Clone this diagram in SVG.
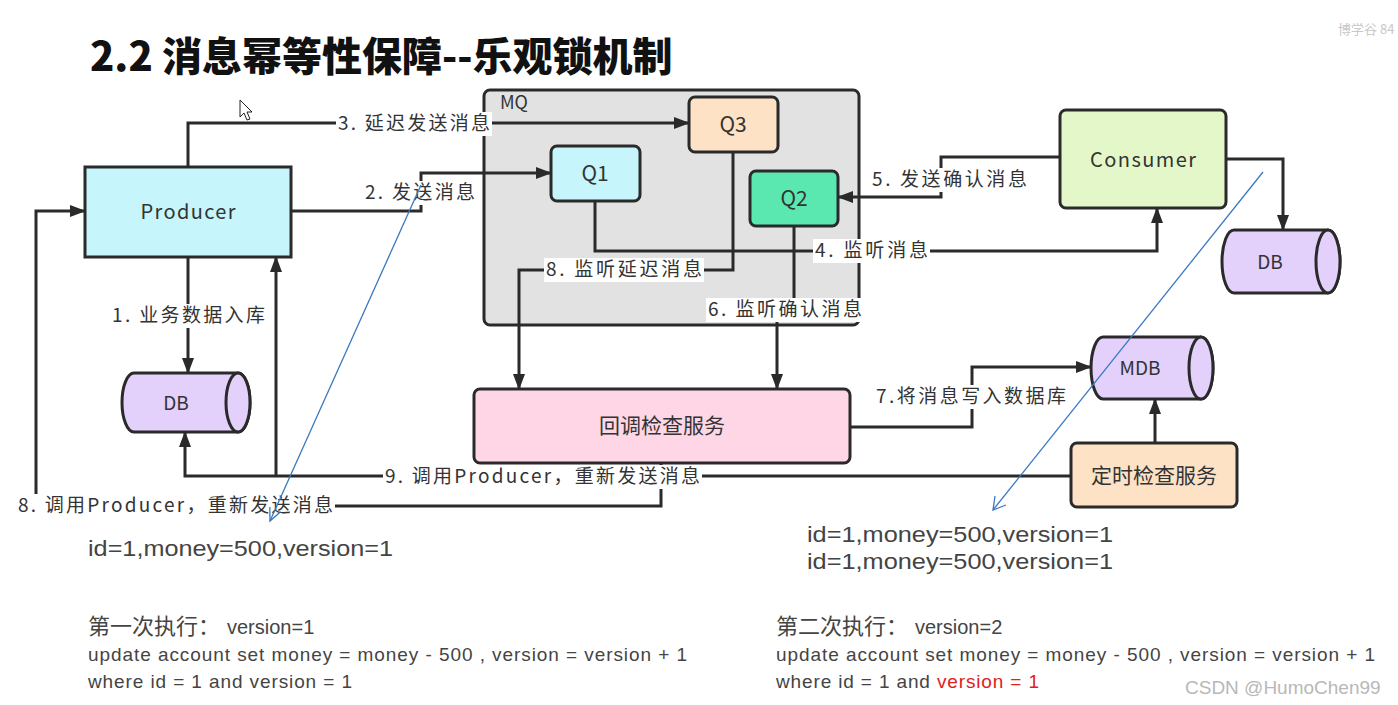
<svg xmlns="http://www.w3.org/2000/svg" width="1398" height="705" viewBox="0 0 1398 705">
<defs>
<marker id="arr" markerWidth="16" markerHeight="12" refX="15" refY="6" orient="auto" markerUnits="userSpaceOnUse">
<path d="M0,0 L16,6 L0,12 Z" fill="#2a2a2a"/>
</marker>
</defs>
<style>
.cn{stroke:#2a2a2a;stroke-width:3;fill:none}
.box{stroke:#2a2a2a;stroke-width:3}
.t{font-family:"Noto Sans CJK SC","Liberation Sans",sans-serif;fill:#333;font-size:21px;text-anchor:middle}
.lb{font-family:"Noto Sans CJK SC","Liberation Sans",sans-serif;fill:#333;font-size:19px}
.lbg{fill:#fff}
.code{font-family:"Liberation Sans","Noto Sans CJK SC",sans-serif;fill:#444;font-size:19px}
.cj{font-family:"Noto Sans CJK SC",sans-serif;font-size:22px}
.id{font-family:"Liberation Sans",sans-serif;fill:#444;font-size:22px}
.blue{stroke:#3a78c0;stroke-width:1.3;fill:none}
</style>
<rect width="1398" height="705" fill="#fff"/>
<text x="90" y="71" style="font-family:'Noto Sans CJK SC',sans-serif;font-weight:900;font-size:40px;fill:#111">2.2 消息幂等性保障--乐观锁机制</text>
<text x="1338" y="34" style="font-family:'Noto Sans CJK SC',sans-serif;font-size:13px;fill:#c8c8c8">博学谷 84</text>

<g id="mq">
<rect x="484" y="90" width="375" height="235" rx="6" fill="#e2e2e2" class="box"/>
<text x="500" y="109" style="font-family:'Noto Sans CJK SC',sans-serif;font-size:18px;fill:#333">MQ</text>
</g>

<g id="connectors">
<path class="cn" d="M188,167 V123 H689" marker-end="url(#arr)"/>
<path class="cn" d="M291,211 H421 V173 H551" marker-end="url(#arr)"/>
<path class="cn" d="M188,257 V373" marker-end="url(#arr)"/>
<path class="cn" d="M1071,476 H185 V432" marker-end="url(#arr)"/>
<path class="cn" d="M276,476 V257" marker-end="url(#arr)"/>
<path class="cn" d="M661,463 V506 H36 V211 H85" marker-end="url(#arr)"/>
<path class="cn" d="M595,201 V251 H1157 V208" marker-end="url(#arr)"/>
<path class="cn" d="M1060,157 H941 V197 H838" marker-end="url(#arr)"/>
<path class="cn" d="M1226,159 H1283 V230" marker-end="url(#arr)"/>
<path class="cn" d="M733,152 V270 H519 V389" marker-end="url(#arr)"/>
<path class="cn" d="M794,226 V310 H777 V389" marker-end="url(#arr)"/>
<path class="cn" d="M850,427 H972 V367 H1091" marker-end="url(#arr)"/>
<path class="cn" d="M1155,443 V399" marker-end="url(#arr)"/>

<rect class="lbg" x="336" y="112" width="156" height="24"/>
<text class="lb" x="338" y="130" textLength="152">3. 延迟发送消息</text>
<rect class="lbg" x="363" y="181" width="114" height="24"/>
<text class="lb" x="365" y="199" textLength="110">2. 发送消息</text>
<rect class="lbg" x="110" y="304" width="157" height="24"/>
<text class="lb" x="112" y="322" textLength="153">1. 业务数据入库</text>
<rect class="lbg" x="813" y="239" width="117" height="24"/>
<text class="lb" x="815" y="257" textLength="113">4. 监听消息</text>
<rect class="lbg" x="870" y="168" width="159" height="24"/>
<text class="lb" x="872" y="186" textLength="155">5. 发送确认消息</text>
<rect class="lbg" x="544" y="258" width="160" height="24"/>
<text class="lb" x="546" y="276" textLength="156">8. 监听延迟消息</text>
<rect class="lbg" x="706" y="298" width="158" height="24"/>
<text class="lb" x="708" y="316" textLength="154">6. 监听确认消息</text>
<rect class="lbg" x="874" y="385" width="194" height="24"/>
<text class="lb" x="876" y="403" textLength="190">7.将消息写入数据库</text>
<rect class="lbg" x="383" y="465" width="319" height="24"/>
<text class="lb" x="385" y="483" textLength="315">9. 调用Producer，重新发送消息</text>
<rect class="lbg" x="16" y="494" width="319" height="24"/>
<text class="lb" x="18" y="512" textLength="315">8. 调用Producer，重新发送消息</text>
</g>

<g id="producer">
<rect x="85" y="167" width="206" height="90" fill="#c6f5fb" class="box"/>
<text class="t" x="188" y="219" textLength="95" style="font-size:20px">Producer</text>
</g>
<g id="q3">
<rect x="689" y="97" width="89" height="55" rx="6" fill="#fde2c6" class="box"/>
<text class="t" x="733" y="132">Q3</text>
</g>
<g id="q1">
<rect x="551" y="146" width="89" height="55" rx="6" fill="#c6f5fb" class="box"/>
<text class="t" x="595" y="181">Q1</text>
</g>
<g id="q2">
<rect x="750" y="171" width="88" height="55" rx="6" fill="#5be8b0" class="box"/>
<text class="t" x="794" y="206">Q2</text>
</g>
<g id="consumer">
<rect x="1060" y="110" width="166" height="98" rx="6" fill="#e4f7c9" class="box"/>
<text class="t" x="1143" y="167" textLength="106" style="font-size:20px">Consumer</text>
</g>
<g id="db-consumer">
<path d="M1234,230 H1328 A12,31.5 0 0 1 1328,293 H1234 A12,31.5 0 0 1 1234,230 Z" fill="#e3d0fb" class="box"/>
<ellipse cx="1328" cy="261.5" rx="12" ry="31.5" fill="#e3d0fb" class="box"/>
<text class="t" x="1270" y="269" style="font-size:19px">DB</text>
</g>
<g id="db-producer">
<path d="M134,373 H238 A12,29.5 0 0 1 238,432 H134 A12,29.5 0 0 1 134,373 Z" fill="#e3d0fb" class="box"/>
<ellipse cx="238" cy="402.5" rx="12" ry="29.5" fill="#e3d0fb" class="box"/>
<text class="t" x="176" y="410" style="font-size:19px">DB</text>
</g>
<g id="mdb">
<path d="M1103,337 H1201 A12,31 0 0 1 1201,399 H1103 A12,31 0 0 1 1103,337 Z" fill="#e3d0fb" class="box"/>
<ellipse cx="1201" cy="368" rx="12" ry="31" fill="#e3d0fb" class="box"/>
<text class="t" x="1140" y="375" style="font-size:19px">MDB</text>
</g>
<g id="callback">
<rect x="474" y="389" width="376" height="74" rx="6" fill="#ffd6e6" class="box"/>
<text class="t" x="662" y="433">回调检查服务</text>
</g>
<g id="timer">
<rect x="1071" y="443" width="166" height="64" rx="6" fill="#fde2c6" class="box"/>
<text class="t" x="1154" y="483">定时检查服务</text>
</g>

<g id="annotations">
<path class="blue" d="M421,185 L270,521"/>
<path class="blue" d="M280.6,511.8 L270,521 L269.8,507"/>
<path class="blue" d="M1263,172 L993,510"/>
<path class="blue" d="M995,496 L993,510 L1006,505"/>
<polygon points="240,100 240,117 244,113 247,120 250,119 247,112 252,112" fill="#fff" stroke="#222" stroke-width="1"/>
</g>

<g id="notes">
<text class="id" x="88" y="556" textLength="305" lengthAdjust="spacingAndGlyphs">id=1,money=500,version=1</text>
<text class="id" x="807" y="542" textLength="306" lengthAdjust="spacingAndGlyphs">id=1,money=500,version=1</text>
<text class="id" x="807" y="569" textLength="306" lengthAdjust="spacingAndGlyphs">id=1,money=500,version=1</text>
<text class="code" x="88" y="634"><tspan class="cj">第一次执行：</tspan><tspan x="227" style="font-size:20px">version=1</tspan></text>
<text class="code" x="88" y="661" textLength="599">update account set money = money - 500 , version = version + 1</text>
<text class="code" x="88" y="688" textLength="264">where id = 1 and version = 1</text>
<text class="code" x="776" y="634"><tspan class="cj">第二次执行：</tspan><tspan x="915" style="font-size:20px">version=2</tspan></text>
<text class="code" x="776" y="661" textLength="599">update account set money = money - 500 , version = version + 1</text>
<text class="code" x="776" y="688" textLength="263">where id = 1 and <tspan fill="#e0201b">version = 1</tspan></text>
<text x="1185" y="694" style="font-family:'Liberation Sans',sans-serif;font-size:19px;fill:#b8b8b8">CSDN @HumoChen99</text>
</g>
</svg>
